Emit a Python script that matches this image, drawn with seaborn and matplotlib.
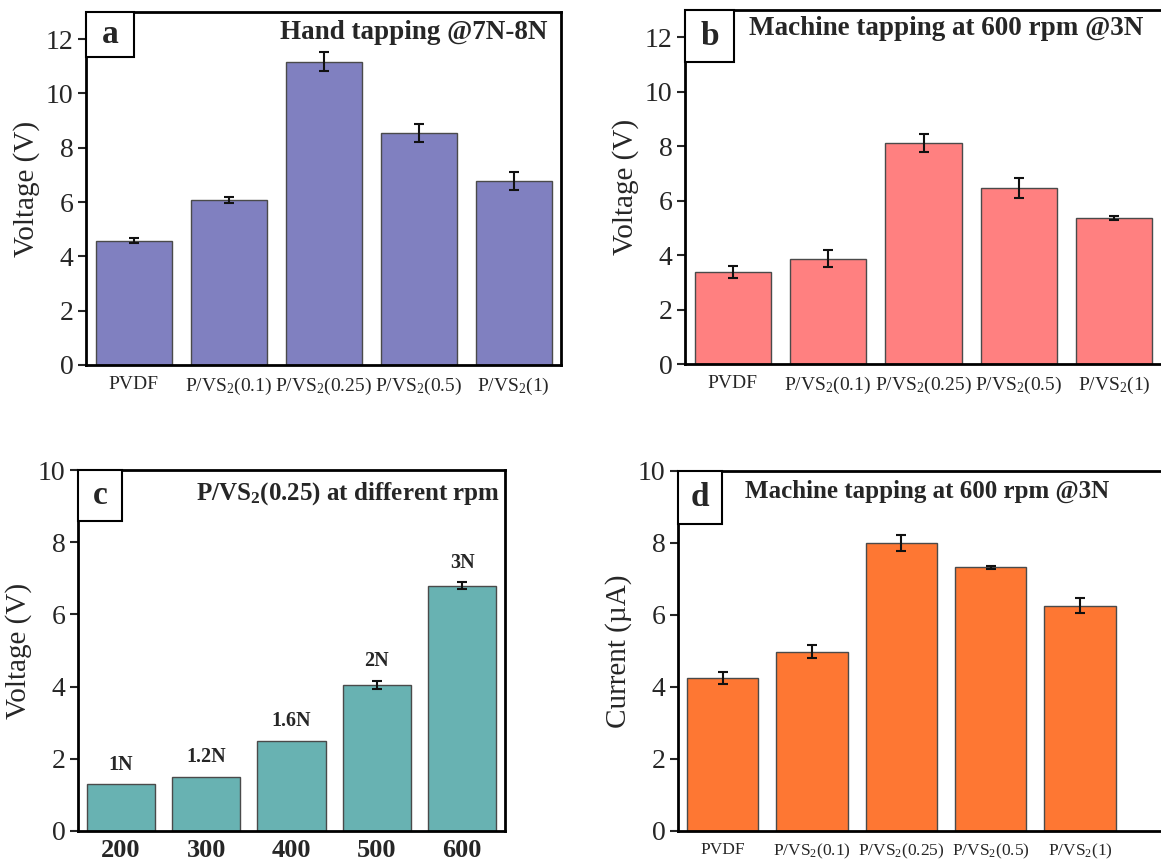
import matplotlib
matplotlib.use("Agg")
import matplotlib.pyplot as plt
import seaborn as sns
import pandas as pd
from matplotlib.patches import Rectangle

sns.set_theme(style="ticks")
plt.rcParams["font.family"] = ["Liberation Serif", "DejaVu Serif"]
plt.rcParams["mathtext.fontset"] = "custom"
plt.rcParams["mathtext.rm"] = "Liberation Serif"
plt.rcParams["mathtext.bf"] = "Liberation Serif:bold"
plt.rcParams["mathtext.it"] = "Liberation Serif:italic"

# ---------------- data ----------------
samples = ["PVDF", r"P/VS$_\mathregular{2}$(0.1)", r"P/VS$_\mathregular{2}$(0.25)",
           r"P/VS$_\mathregular{2}$(0.5)", r"P/VS$_\mathregular{2}$(1)"]
hand_voltage = [4.58, 6.07, 11.16, 8.55, 6.77]
hand_err = [0.09, 0.12, 0.35, 0.32, 0.34]

machine_voltage = [3.38, 3.86, 8.11, 6.46, 5.35]
machine_err = [0.21, 0.31, 0.34, 0.38, 0.07]

rpm = ["200", "300", "400", "500", "600"]
rpm_voltage = [1.29, 1.50, 2.50, 4.04, 6.80]
rpm_err = [0.0, 0.0, 0.0, 0.11, 0.09]
rpm_force = ["1N", "1.2N", "1.6N", "2N", "3N"]

machine_current = [4.25, 4.98, 8.00, 7.32, 6.26]
current_err = [0.17, 0.18, 0.22, 0.055, 0.20]

titles = ["Hand tapping @7N-8N", "Machine tapping at 600 rpm @3N",
          r"P/VS$_\mathbf{2}$(0.25) at different rpm", "Machine tapping at 600 rpm @3N"]
title_sizes = [19.5, 19.5, 18, 18]
letters = ["a", "b", "c", "d"]
ylabels = ["Voltage (V)", "Voltage (V)", "Voltage (V)", "Current (\u00b5A)"]
colors = ["#8080C0", "#FF8080", "#68B2B2", "#FE7733"]
xtick_sizes = [14, 14, 19, 12.5]

W, H = 1161, 864
fig = plt.figure(figsize=(W / 100, H / 100), dpi=100)


def px_axes(l, t, r, b):
    return fig.add_axes([l / W, 1 - b / H, (r - l) / W, (b - t) / H])


axes = [px_axes(86, 12, 561, 365), px_axes(685, 10, 1162, 364),
        px_axes(78, 470, 505, 831), px_axes(678, 471, 1163, 831)]

panels = [
    (samples, hand_voltage, hand_err, 13, 12),
    (samples, machine_voltage, machine_err, 13, 12),
    (rpm, rpm_voltage, rpm_err, 10, 10),
    (samples, machine_current, current_err, 10, 10),
]
title_pos = [(0.972, 0.943), (0.96, 0.949), (0.988, 0.936), (0.89, 0.942)]
box_size = [(0.101, 0.127), (0.103, 0.147), (0.103, 0.141), (0.091, 0.147)]

for i, ax in enumerate(axes):
    cats, vals, errs, ytop, ymaxtick = panels[i]
    df = pd.DataFrame({"cat": cats, "val": vals})
    sns.barplot(data=df, x="cat", y="val", ax=ax, color=colors[i], saturation=1,
                width=0.8, edgecolor="#4a4a4a", linewidth=1.0, errorbar=None)
    xs = [p.get_x() + p.get_width() / 2 for p in ax.patches]
    tops = [p.get_height() for p in ax.patches]
    for x, v, e in zip(xs, tops, errs):
        if e > 0:
            ax.errorbar(x, v, yerr=e, fmt="none", ecolor="#111111",
                        elinewidth=1.5, capsize=3.5, capthick=1.5)
    ax.set_ylim(0, ytop)
    ax.set_yticks(range(0, ymaxtick + 1, 2))
    if i == 3:
        ax.set_xlim(-0.5, 4.93)
    else:
        ax.set_xlim(-0.5, 4.5)
    ax.set_xlabel("")
    ax.set_ylabel(ylabels[i], fontsize=21, labelpad=4)
    ax.tick_params(axis="y", labelsize=20, length=6, width=1.5, direction="out", pad=3)
    ax.tick_params(axis="x", labelsize=xtick_sizes[i], length=0,
                   pad=6 if i == 2 else 8)
    if i == 2:
        for lab in ax.get_xticklabels():
            lab.set_fontweight("bold")
    for s in ax.spines.values():
        s.set_linewidth(2.0)
        s.set_color("black")
    # title
    ax.text(title_pos[i][0], title_pos[i][1], titles[i], transform=ax.transAxes,
            ha="right", va="center", fontsize=title_sizes[i], fontweight="bold")
    # letter box
    bw, bh = box_size[i]
    ax.add_patch(Rectangle((0, 1 - bh), bw, bh, transform=ax.transAxes,
                           facecolor="white", edgecolor="black", linewidth=1.5,
                           zorder=5, clip_on=False))
    ax.text(bw / 2, 1 - bh / 2, letters[i], transform=ax.transAxes, ha="center",
            va="center", fontsize=24, fontweight="bold", zorder=6)
    if i == 2:
        for x, v, e, lab in zip(xs, tops, errs, rpm_force):
            ax.annotate(lab, (x, v + e), xytext=(0, 7), textcoords="offset points",
                        ha="center", va="bottom", fontsize=14.5, fontweight="bold")

fig.savefig("out.png", dpi=100)
